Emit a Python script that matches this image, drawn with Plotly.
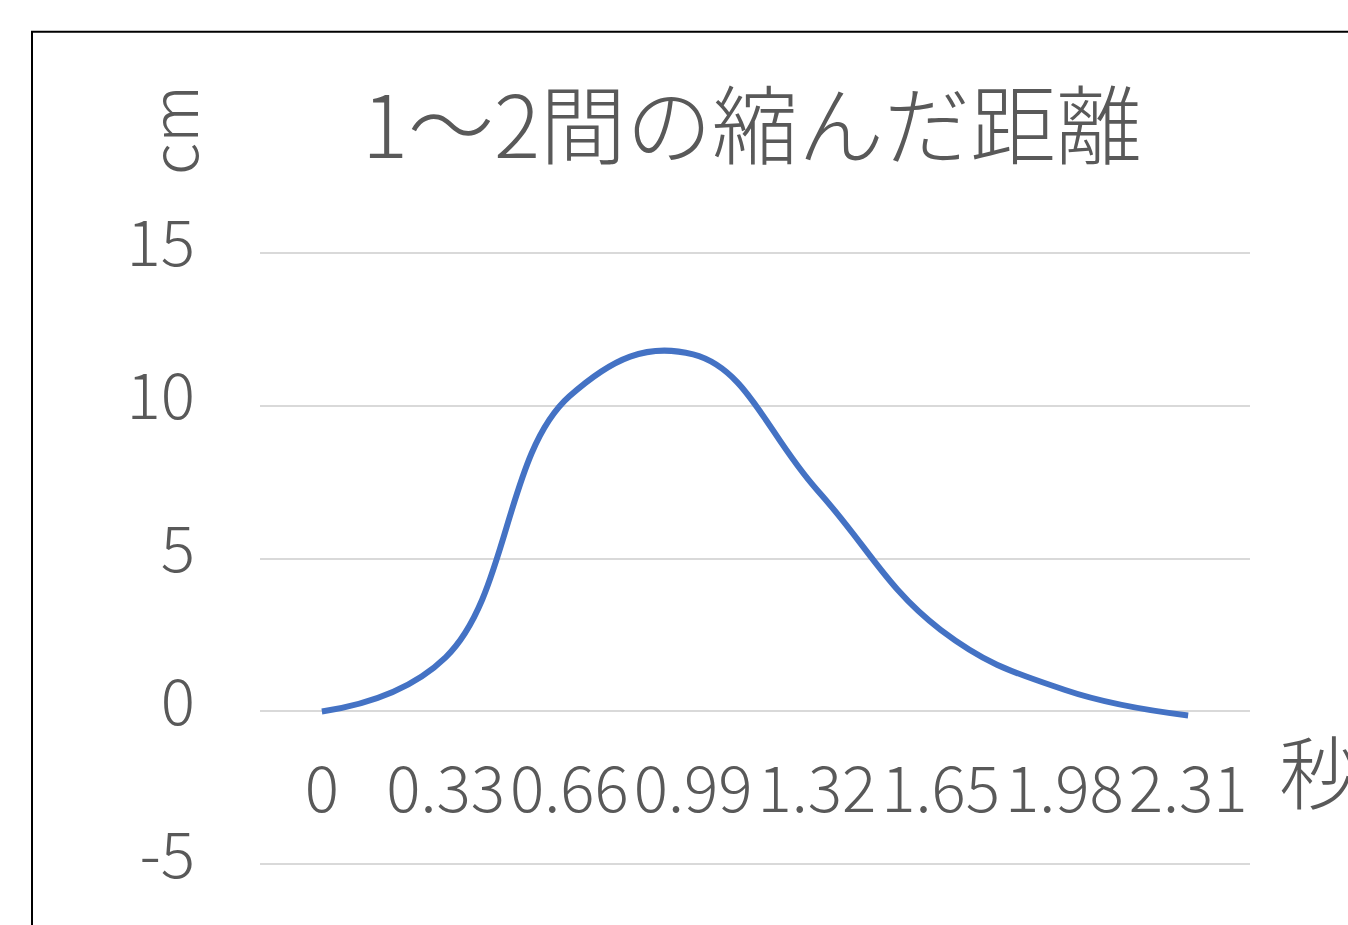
import plotly.graph_objects as go

# Elapsed time (s) and contraction distance (cm)
times = ["0", "0.33", "0.66", "0.99", "1.32", "1.65", "1.98", "2.31"]
distance_cm = [0, 1.77, 10.3, 11.67, 7.25, 2.67, 0.71, -0.13]
y_ticks = [-5, 0, 5, 10, 15]

title_text = "1～2間の縮んだ距離"
y_title = "cm"
x_title = "秒"

FONT = "Noto Sans CJK JP, Noto Sans, sans-serif"
GREY = "#595959"

W, H = 1348, 925
# pixel rows of the 15 and -5 gridlines, left/right of the plotting area
Y_TOP_PX, Y_BOT_PX = 252.5, 864.0
X_LEFT_PX, X_RIGHT_PX = 260, 1250
y_min, y_max = -5, 15
pad = 0.05  # a little headroom so the outer gridlines get drawn
unit = (Y_BOT_PX - Y_TOP_PX) / (y_max - y_min)

T = Y_TOP_PX - pad * unit
B = H - (Y_BOT_PX + pad * unit)
L, R = X_LEFT_PX, W - X_RIGHT_PX
pw, ph = W - L - R, H - T - B


def px_x(px):
    return (px - L) / pw


def px_y(py):
    return (H - B - py) / ph


fig = go.Figure()
fig.add_trace(go.Scatter(
    x=list(range(len(times))),
    y=distance_cm,
    mode="lines",
    line=dict(color="#4472C4", width=6, shape="spline", smoothing=1.2),
    hoverinfo="skip",
    showlegend=False,
))

r_lo, r_hi = y_min - pad, y_max + pad
zero_pos = (0 - r_lo) / (r_hi - r_lo)

tick_font = dict(size=64, color=GREY, family=FONT, weight=300)

fig.update_layout(
    width=W, height=H,
    margin=dict(l=L, r=R, t=T, b=B),
    paper_bgcolor="white",
    plot_bgcolor="white",
    font=dict(family=FONT, color=GREY, size=64, weight=300),
    title=dict(
        text=title_text,
        x=px_x(752), xref="paper", xanchor="center",
        y=1 - 128 / H, yref="container", yanchor="middle",
        font=dict(size=86, color=GREY, family=FONT, weight=300),
    ),
    xaxis=dict(
        range=[-0.5, len(times) - 0.5],
        tickmode="array",
        tickvals=list(range(len(times))),
        ticktext=times,
        tickangle=0,
        anchor="free",
        position=zero_pos,
        showgrid=False,
        showline=False,
        zeroline=False,
        ticks="",
        ticklabelstandoff=36,
        tickfont=tick_font,
    ),
    yaxis=dict(
        range=[r_lo, r_hi],
        tickmode="array",
        tickvals=y_ticks,
        ticktext=[str(v) for v in y_ticks],
        showgrid=True,
        gridcolor="#D9D9D9",
        gridwidth=1.5,
        zeroline=False,
        showline=False,
        ticks="",
        ticklabelstandoff=64,
        ticklabelshift=-9,
        tickfont=tick_font,
    ),
    shapes=[dict(
        type="rect", xref="paper", yref="paper",
        x0=px_x(32), x1=px_x(1500), y0=px_y(1100), y1=px_y(32),
        line=dict(color="black", width=2), fillcolor="rgba(0,0,0,0)",
        layer="below",
    )],
    annotations=[
        dict(text=y_title, xref="paper", yref="paper",
             x=px_x(170), y=px_y(130), xanchor="center", yanchor="middle",
             textangle=-90, showarrow=False,
             font=dict(size=64, color=GREY, family=FONT, weight=300)),
        dict(text=x_title, xref="paper", yref="paper",
             x=px_x(1277), y=px_y(768), xanchor="left", yanchor="middle",
             showarrow=False,
             font=dict(size=80, color=GREY, family=FONT, weight=300)),
    ],
)

fig.write_html("out.html")
